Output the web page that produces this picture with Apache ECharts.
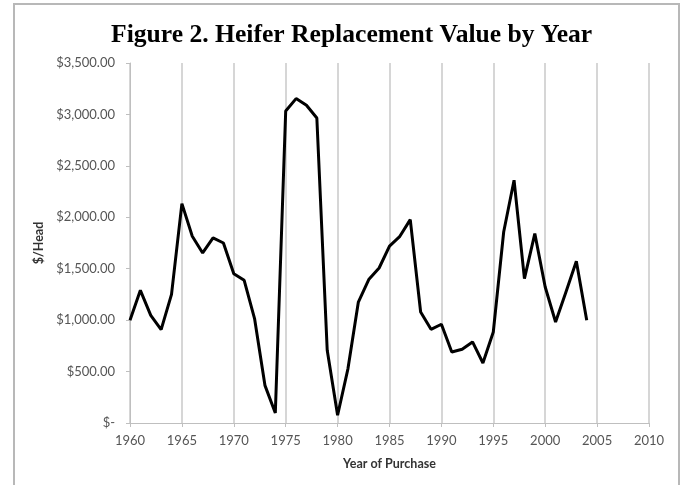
<!DOCTYPE html>
<html>
<head>
<meta charset="utf-8">
<script src="https://cdn.jsdelivr.net/npm/echarts@6/dist/echarts.min.js"></script>
<style>html,body{margin:0;padding:0;background:#fff;}#c{width:681px;height:485px;}</style>
</head>
<body>
<div id="c"></div>
<script>
const years = [1960,1961,1962,1963,1964,1965,1966,1967,1968,1969,1970,1971,1972,1973,1974,1975,1976,1977,1978,1979,1980,1981,1982,1983,1984,1985,1986,1987,1988,1989,1990,1991,1992,1993,1994,1995,1996,1997,1998,1999,2000,2001,2002,2003,2004];
const values = [1000,1290,1047,908,1251,2133,1815,1653,1799,1750,1452,1387,1015,366,97,3033,3154,3089,2965,707,75,529,1176,1394,1507,1720,1815,1977,1079,911,960,690,717,788,583,885,1857,2360,1404,1841,1322,982,1274,1572,998];
const titleText = 'Figure 2. Heifer Replacement Value by Year';
const xName = 'Year of Purchase';
const yName = '$/Head';

function fmtY(v){
  if (v === 0) return '$-';
  return '$' + v.toLocaleString('en-US',{minimumFractionDigits:2,maximumFractionDigits:2});
}

const chart = echarts.init(document.getElementById('c'), null, {renderer:'canvas'});
chart.setOption({
  animation:false,
  backgroundColor:'#fff',
  graphic:[{type:'rect', shape:{x:14,y:4,width:665,height:510}, style:{fill:'none', stroke:'#b8b8b8', lineWidth:2}, silent:true}],
  title:{text:titleText, left:106, top:17,
    textStyle:{fontFamily:'Liberation Serif', fontWeight:'bold', fontSize:25.6, color:'#000'}},
  grid:{left:130, right:32, top:63, bottom:62},
  xAxis:{type:'value', min:1960, max:2010, interval:5,
    name:xName, nameLocation:'middle', nameGap:34,
    nameTextStyle:{fontFamily:'Lato', fontWeight:'bold', fontSize:12.5, color:'#333'},
    axisLine:{show:true, lineStyle:{color:'#bfbfbf', width:1}},
    axisTick:{show:true, length:4, lineStyle:{color:'#bfbfbf'}},
    axisLabel:{fontFamily:'Lato', fontSize:13, color:'#555', margin:11, formatter:v=>String(v)},
    splitLine:{show:true, lineStyle:{color:'#c8c8c8', width:1.5}}},
  yAxis:{type:'value', min:0, max:3500, interval:500,
    name:yName, nameLocation:'middle', nameGap:83, nameRotate:90,
    nameTextStyle:{fontFamily:'Lato', fontWeight:'bold', fontSize:12.5, color:'#333'},
    axisLine:{show:true, lineStyle:{color:'#bfbfbf', width:1}},
    axisTick:{show:true, length:4, lineStyle:{color:'#bfbfbf'}},
    axisLabel:{fontFamily:'Lato', fontSize:13, color:'#555', margin:15, formatter:fmtY},
    splitLine:{show:false}},
  series:[{type:'line', data:years.map((y,i)=>[y, values[i]]), showSymbol:false, symbol:'none',
    lineStyle:{color:'#000', width:3}, itemStyle:{color:'#000'}}]
});
</script>
</body>
</html>
